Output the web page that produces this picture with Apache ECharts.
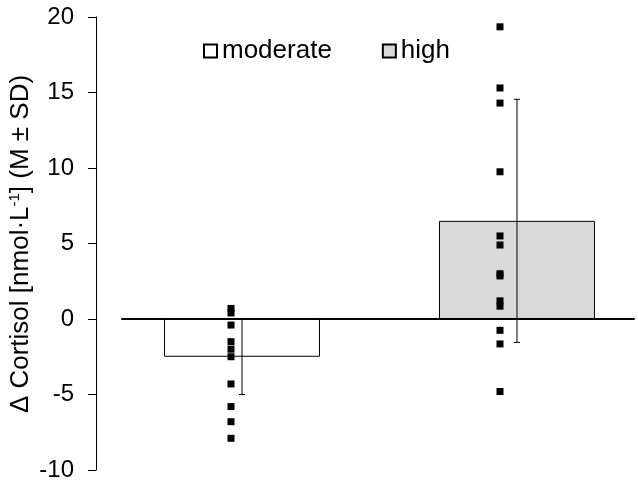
<!DOCTYPE html>
<html>
<head>
<meta charset="utf-8">
<script src="https://cdn.jsdelivr.net/npm/echarts@6/dist/echarts.min.js"></script>
<style>
  html, body { margin: 0; padding: 0; background: #fff; }
  #main { width: 638px; height: 487px; }
</style>
</head>
<body>
<div id="main"></div>
<script>
// groups and summary values (M ± SD)
const groups = ['moderate', 'high'];
const means = [-2.5, 6.5];
const sds = [2.5, 8.05];
// individual values per group
const moderatePoints = [0.7, 0.4, -0.4, -1.5, -2.0, -2.5, -4.3, -5.8, -6.8, -7.9];
const highPoints = [19.35, 15.3, 14.3, 9.75, 5.5, 4.9, 3.0, 2.85, 1.2, 0.85, -0.75, -1.65, -4.8];
const yTicks = { min: -10, max: 20, step: 5 };

const font = 'Liberation Sans, Arial, sans-serif';
const chart = echarts.init(document.getElementById('main'));

function barSeries(i, fill) {
    return {
        name: groups[i],
        type: 'bar',
        barWidth: 156,
        barGap: '-100%',
        itemStyle: { color: fill, borderColor: '#000', borderWidth: 1 },
        data: [[i + 1, means[i]]],
        z: 2
    };
}

function pointSeries(i, pts, shift) {
    return {
        name: groups[i] + ' values',
        type: 'scatter',
        symbol: 'rect',
        symbolSize: 7,
        symbolOffset: [shift, 0],
        itemStyle: { color: '#000', opacity: 1 },
        data: pts.map(v => [i + 1, v]),
        z: 4
    };
}

chart.setOption({
    animation: false,
    textStyle: { fontFamily: font },
    grid: { left: 122, right: 4, top: 17, bottom: 17 },
    legend: {
        data: groups,
        top: 33,
        left: 198,
        icon: 'rect',
        itemWidth: 13,
        itemHeight: 13,
        itemGap: 50,
        textStyle: { fontSize: 26, lineHeight: 26, color: '#000', fontFamily: font }
    },
    xAxis: {
        type: 'value',
        min: 0.5636,
        max: 2.4255,
        axisLine: { onZero: true, lineStyle: { color: '#000', width: 2 } },
        axisTick: { show: false },
        axisLabel: { show: false },
        splitLine: { show: false }
    },
    yAxis: {
        type: 'value',
        min: yTicks.min,
        max: yTicks.max,
        interval: yTicks.step,
        offset: 26,
        axisLine: { show: true, lineStyle: { color: '#000', width: 1 } },
        axisTick: { show: true, length: 8, lineStyle: { color: '#000' } },
        axisLabel: { fontSize: 24, color: '#000', margin: 22, fontFamily: font },
        splitLine: { show: false }
    },
    graphic: [{
        type: 'text',
        x: 21,
        y: 244,
        rotation: Math.PI / 2,
        style: {
            text: 'Δ Cortisol [nmol·L{sup|-1}] (M ± SD)',
            fontSize: 26,
            fontFamily: font,
            fill: '#000',
            align: 'center',
            verticalAlign: 'middle',
            rich: {
                sup: { fontSize: 15, fontFamily: font, verticalAlign: 'top', padding: [0, 0, 12, 0] }
            }
        }
    }],
    series: [
        barSeries(0, '#fff'),
        barSeries(1, '#d9d9d9'),
        {
            name: 'SD',
            type: 'custom',
            z: 3,
            data: means.map((m, i) => [i + 1, m - sds[i], m + sds[i]]),
            renderItem: function (params, api) {
                const lo = api.coord([api.value(0), api.value(1)]);
                const hi = api.coord([api.value(0), api.value(2)]);
                const c = 3;
                const st = { stroke: '#000', lineWidth: 1 };
                return {
                    type: 'group',
                    children: [
                        { type: 'line', shape: { x1: lo[0], y1: lo[1], x2: hi[0], y2: hi[1] }, style: st },
                        { type: 'line', shape: { x1: lo[0] - c, y1: lo[1], x2: lo[0] + c, y2: lo[1] }, style: st },
                        { type: 'line', shape: { x1: hi[0] - c, y1: hi[1], x2: hi[0] + c, y2: hi[1] }, style: st }
                    ]
                };
            }
        },
        pointSeries(0, moderatePoints, -11),
        pointSeries(1, highPoints, -17)
    ]
});
</script>
</body>
</html>
